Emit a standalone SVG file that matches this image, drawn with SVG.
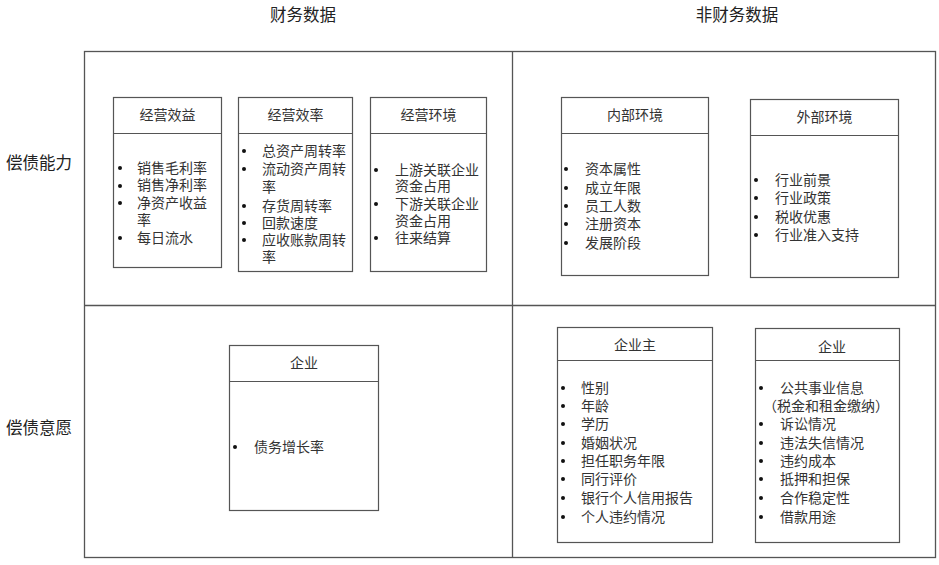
<svg xmlns="http://www.w3.org/2000/svg" width="939" height="565" viewBox="0 0 939 565">
<style>
text{font-family:"Noto Sans CJK SC","Noto Sans",sans-serif;fill:#333}
.lab{font-size:16.5px;fill:#222}
.hd{font-size:14px;text-anchor:middle}
.it{font-size:14px}
.box{fill:#fff;stroke:#555;stroke-width:1.2}
.frame{fill:none;stroke:#555;stroke-width:1.3}
.dot{fill:#111}
</style>
<rect width="939" height="565" fill="#fff"/>
<g id="frame">
<rect class="frame" x="84.5" y="51.5" width="851" height="506"/>
<line class="frame" x1="512.5" y1="51.5" x2="512.5" y2="557.5"/>
<line class="frame" x1="84.5" y1="305.5" x2="935.5" y2="305.5"/>
</g>
<g id="labels">
<text class="lab" x="303" y="21" text-anchor="middle">财务数据</text>
<text class="lab" x="737" y="21" text-anchor="middle">非财务数据</text>
<text class="lab" x="6" y="169">偿债能力</text>
<text class="lab" x="6" y="434">偿债意愿</text>
</g>
<g id="n1">
<rect class="box" x="113.5" y="97.5" width="108" height="170"/>
<line class="box" x1="113.5" y1="133.5" x2="221.5" y2="133.5"/>
<text class="hd" x="167.5" y="120">经营效益</text>
<g class="it">
<circle class="dot" cx="120" cy="168" r="2"/><text x="137" y="173">销售毛利率</text>
<circle class="dot" cx="120" cy="186" r="2"/><text x="137" y="190">销售净利率</text>
<circle class="dot" cx="120" cy="203" r="2"/><text x="137" y="208">净资产收益</text>
<text x="137" y="225">率</text>
<circle class="dot" cx="120" cy="238" r="2"/><text x="137" y="243">每日流水</text>
</g>
</g>
<g id="n2">
<rect class="box" x="238.5" y="97.5" width="114" height="174"/>
<line class="box" x1="238.5" y1="133.5" x2="352.5" y2="133.5"/>
<text class="hd" x="295.5" y="120">经营效率</text>
<g class="it">
<circle class="dot" cx="244" cy="151" r="2"/><text x="262" y="156">总资产周转率</text>
<circle class="dot" cx="244" cy="169" r="2"/><text x="262" y="174">流动资产周转</text>
<text x="262" y="192">率</text>
<circle class="dot" cx="244" cy="206" r="2"/><text x="262" y="211">存货周转率</text>
<circle class="dot" cx="244" cy="223" r="2"/><text x="262" y="228">回款速度</text>
<circle class="dot" cx="244" cy="240" r="2"/><text x="262" y="245">应收账款周转</text>
<text x="262" y="262">率</text>
</g>
</g>
<g id="n3">
<rect class="box" x="370.5" y="97.5" width="116" height="174"/>
<line class="box" x1="370.5" y1="133.5" x2="486.5" y2="133.5"/>
<text class="hd" x="428.5" y="120">经营环境</text>
<g class="it">
<circle class="dot" cx="376" cy="170" r="2"/><text x="395" y="175">上游关联企业</text>
<text x="395" y="191">资金占用</text>
<circle class="dot" cx="376" cy="204" r="2"/><text x="395" y="209">下游关联企业</text>
<text x="395" y="226">资金占用</text>
<circle class="dot" cx="376" cy="238" r="2"/><text x="395" y="243">往来结算</text>
</g>
</g>
<g id="n4">
<rect class="box" x="561.5" y="97.5" width="147" height="178"/>
<line class="box" x1="561.5" y1="133.5" x2="708.5" y2="133.5"/>
<text class="hd" x="635" y="120">内部环境</text>
<g class="it">
<circle class="dot" cx="566" cy="169" r="2"/><text x="585" y="174">资本属性</text>
<circle class="dot" cx="566" cy="188" r="2"/><text x="585" y="193">成立年限</text>
<circle class="dot" cx="566" cy="206" r="2"/><text x="585" y="211">员工人数</text>
<circle class="dot" cx="566" cy="224" r="2"/><text x="585" y="229">注册资本</text>
<circle class="dot" cx="566" cy="243" r="2"/><text x="585" y="248">发展阶段</text>
</g>
</g>
<g id="n5">
<rect class="box" x="750.5" y="99.5" width="148" height="178"/>
<line class="box" x1="750.5" y1="135.5" x2="898.5" y2="135.5"/>
<text class="hd" x="824.5" y="122">外部环境</text>
<g class="it">
<circle class="dot" cx="756" cy="180" r="2"/><text x="775" y="185">行业前景</text>
<circle class="dot" cx="756" cy="198" r="2"/><text x="775" y="203">行业政策</text>
<circle class="dot" cx="756" cy="217" r="2"/><text x="775" y="222">税收优惠</text>
<circle class="dot" cx="756" cy="235" r="2"/><text x="775" y="240">行业准入支持</text>
</g>
</g>
<g id="n6">
<rect class="box" x="229.5" y="345.5" width="149" height="165"/>
<line class="box" x1="229.5" y1="381.5" x2="378.5" y2="381.5"/>
<text class="hd" x="304" y="368">企业</text>
<g class="it">
<circle class="dot" cx="235" cy="447" r="2"/><text x="254" y="452">债务增长率</text>
</g>
</g>
<g id="n7">
<rect class="box" x="557.5" y="327.5" width="155" height="215"/>
<line class="box" x1="557.5" y1="360.5" x2="712.5" y2="360.5"/>
<text class="hd" x="635" y="350">企业主</text>
<g class="it">
<circle class="dot" cx="563" cy="388" r="2"/><text x="581" y="393">性别</text>
<circle class="dot" cx="563" cy="406" r="2"/><text x="581" y="411">年龄</text>
<circle class="dot" cx="563" cy="424" r="2"/><text x="581" y="429">学历</text>
<circle class="dot" cx="563" cy="443" r="2"/><text x="581" y="448">婚姻状况</text>
<circle class="dot" cx="563" cy="461" r="2"/><text x="581" y="466">担任职务年限</text>
<circle class="dot" cx="563" cy="479" r="2"/><text x="581" y="484">同行评价</text>
<circle class="dot" cx="563" cy="498" r="2"/><text x="581" y="503">银行个人信用报告</text>
<circle class="dot" cx="563" cy="517" r="2"/><text x="581" y="522">个人违约情况</text>
</g>
</g>
<g id="n8">
<rect class="box" x="755.5" y="328.5" width="144" height="214"/>
<line class="box" x1="755.5" y1="360.5" x2="899.5" y2="360.5"/>
<text class="hd" x="832" y="352">企业</text>
<g class="it">
<circle class="dot" cx="761" cy="388" r="2"/><text x="780" y="393">公共事业信息</text>
<text x="763" y="411">（税金和租金缴纳）</text>
<circle class="dot" cx="761" cy="424" r="2"/><text x="780" y="429">诉讼情况</text>
<circle class="dot" cx="761" cy="443" r="2"/><text x="780" y="448">违法失信情况</text>
<circle class="dot" cx="761" cy="461" r="2"/><text x="780" y="466">违约成本</text>
<circle class="dot" cx="761" cy="479" r="2"/><text x="780" y="484">抵押和担保</text>
<circle class="dot" cx="761" cy="498" r="2"/><text x="780" y="503">合作稳定性</text>
<circle class="dot" cx="761" cy="517" r="2"/><text x="780" y="522">借款用途</text>
</g>
</g>
</svg>
